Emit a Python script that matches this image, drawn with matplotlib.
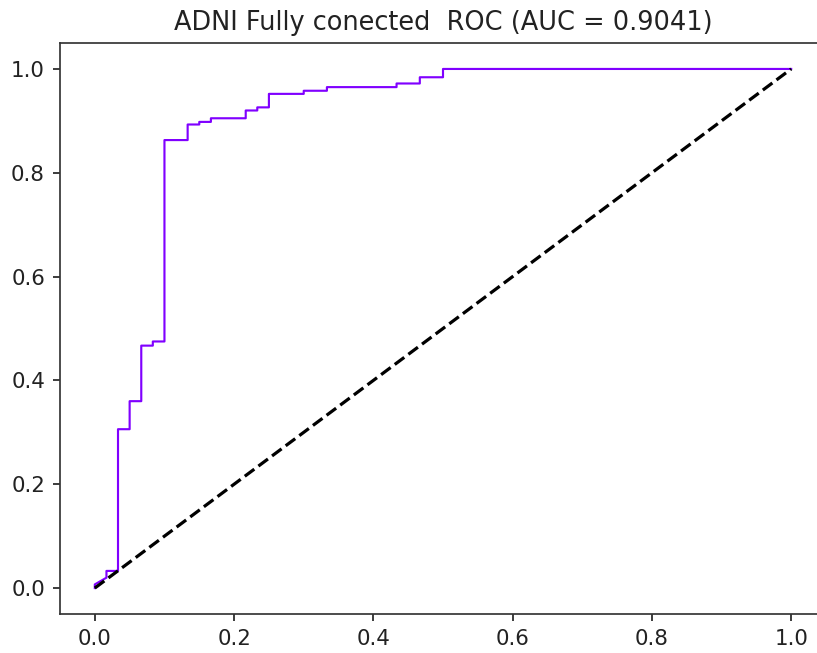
import matplotlib
matplotlib.use("Agg")
import matplotlib.pyplot as plt

# ROC points
fpr = [0.0, 0.0, 0.0167, 0.0167, 0.0333, 0.0333, 0.05, 0.05, 0.0667, 0.0667,
       0.0833, 0.0833, 0.1, 0.1, 0.1333, 0.1333, 0.15, 0.15, 0.1667, 0.1667,
       0.2167, 0.2167, 0.2333, 0.2333, 0.25, 0.25, 0.3, 0.3, 0.3333, 0.3333,
       0.4333, 0.4333, 0.4667, 0.4667, 0.5, 0.5, 1.0]
tpr = [0.0, 0.007, 0.02, 0.033, 0.033, 0.306, 0.306, 0.36, 0.36, 0.467,
       0.467, 0.475, 0.475, 0.863, 0.863, 0.893, 0.893, 0.898, 0.898, 0.905,
       0.905, 0.92, 0.92, 0.926, 0.926, 0.952, 0.952, 0.958, 0.958, 0.965,
       0.965, 0.972, 0.972, 0.984, 0.984, 1.0, 1.0]
auc_val = 0.9041
title = 'ADNI Fully conected  ROC (AUC = %0.4f)' % auc_val

s = 1.54  # scale of the screenshot relative to default matplotlib
fig = plt.figure(figsize=(8.17, 6.53), dpi=100)
# the reference is a crop: the right edge of the axes falls outside the image
ax = fig.add_axes([60/817, 39/653, 766/817, 571/653])

ax.plot(fpr, tpr, color='#8000ff', lw=1.0*s)
ax.plot([0, 1], [0, 1], 'k--', lw=1.5*s)
ax.set_xlim(-0.05, 1.05)
ax.set_ylim(-0.05, 1.05)
ax.set_xticks([0, 0.2, 0.4, 0.6, 0.8, 1.0])
ax.set_yticks([0, 0.2, 0.4, 0.6, 0.8, 1.0])
ax.tick_params(labelsize=10*s, length=3.5*s, width=0.8*s, pad=3.5*s,
               colors='#222222')
for sp in ax.spines.values():
    sp.set_linewidth(0.8*s)
    sp.set_color('#333333')
ax.spines['right'].set_visible(False)
ax.set_title(title, fontsize=12*s, pad=6*s, color='#222222')

fig.savefig('out.png', dpi=100)
